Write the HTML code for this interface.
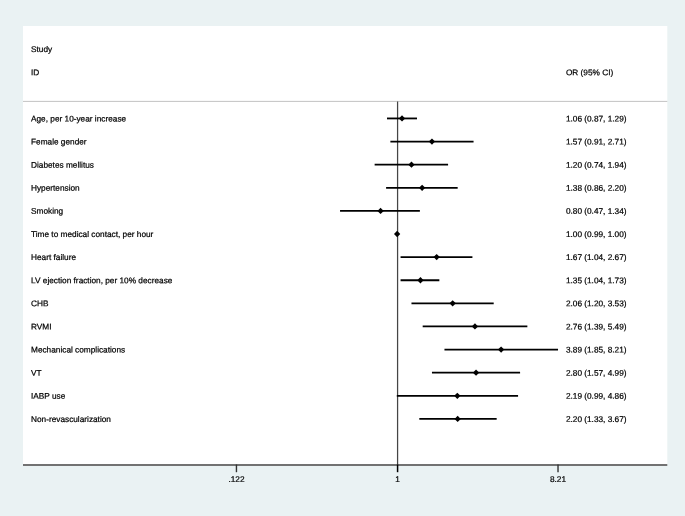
<!DOCTYPE html>
<html><head><meta charset="utf-8"><title>Forest plot</title>
<style>
html,body{margin:0;padding:0;background:#eaf2f3;}
body{width:685px;height:516px;overflow:hidden;}
svg{display:block;will-change:transform;}
text{font-family:"Liberation Sans",sans-serif;font-size:8.28px;fill:#000;stroke:#000;stroke-width:0.22px;text-rendering:geometricPrecision;}
</style></head><body>
<svg width="685" height="516" viewBox="0 0 685 516">
<rect x="0" y="0" width="685" height="516" fill="#eaf2f3"/>
<rect x="23" y="26" width="644.3" height="439" fill="#ffffff"/>
<line x1="23" y1="101.4" x2="667.3" y2="101.4" stroke="#b4b4b4" stroke-width="0.8"/>
<line x1="23" y1="465" x2="667.3" y2="465" stroke="#727272" stroke-width="1.8"/>
<line x1="236.45" y1="464.5" x2="236.45" y2="472.2" stroke="#333" stroke-width="1.4"/>
<line x1="558.02" y1="464.5" x2="558.02" y2="472.2" stroke="#333" stroke-width="1.4"/>
<line x1="397.58" y1="101.4" x2="397.58" y2="465" stroke="#454545" stroke-width="1.25"/>
<line x1="397.58" y1="464.6" x2="397.58" y2="472.2" stroke="#000" stroke-width="1.5"/>
<text x="236.45" y="482.00" transform="rotate(0.03 236.45 482.00)" text-anchor="middle">.122</text>
<text x="397.58" y="482.00" transform="rotate(0.03 397.58 482.00)" text-anchor="middle">1</text>
<text x="558.02" y="482.00" transform="rotate(0.03 558.02 482.00)" text-anchor="middle">8.21</text>
<text x="31.00" y="52.07" transform="rotate(0.03 31.00 52.07)">Study</text>
<text x="31.00" y="75.18" transform="rotate(0.03 31.00 75.18)">ID</text>
<text x="565.90" y="75.18" transform="rotate(0.03 565.90 75.18)">OR (95% CI)</text>
<text x="31.00" y="121.41" transform="rotate(0.03 31.00 121.41)">Age, per 10-year increase</text>
<text x="565.90" y="121.41" transform="rotate(0.03 565.90 121.41)">1.06 (0.87, 1.29)</text>
<line x1="386.97" y1="118.44" x2="416.99" y2="118.44" stroke="#000" stroke-width="1.8"/>
<polygon points="398.87,118.44 402.02,115.29 405.17,118.44 402.02,121.59" fill="#000"/>
<text x="31.00" y="144.52" transform="rotate(0.03 31.00 144.52)">Female gender</text>
<text x="565.90" y="144.52" transform="rotate(0.03 565.90 144.52)">1.57 (0.91, 2.71)</text>
<line x1="390.39" y1="141.55" x2="473.56" y2="141.55" stroke="#000" stroke-width="1.8"/>
<polygon points="428.81,141.55 431.96,138.40 435.11,141.55 431.96,144.70" fill="#000"/>
<text x="31.00" y="167.64" transform="rotate(0.03 31.00 167.64)">Diabetes mellitus</text>
<text x="565.90" y="167.64" transform="rotate(0.03 565.90 167.64)">1.20 (0.74, 1.94)</text>
<line x1="374.63" y1="164.67" x2="448.08" y2="164.67" stroke="#000" stroke-width="1.8"/>
<polygon points="408.32,164.67 411.47,161.52 414.62,164.67 411.47,167.82" fill="#000"/>
<text x="31.00" y="190.75" transform="rotate(0.03 31.00 190.75)">Hypertension</text>
<text x="565.90" y="190.75" transform="rotate(0.03 565.90 190.75)">1.38 (0.86, 2.20)</text>
<line x1="386.09" y1="187.78" x2="457.67" y2="187.78" stroke="#000" stroke-width="1.8"/>
<polygon points="418.98,187.78 422.13,184.63 425.28,187.78 422.13,190.93" fill="#000"/>
<text x="31.00" y="213.86" transform="rotate(0.03 31.00 213.86)">Smoking</text>
<text x="565.90" y="213.86" transform="rotate(0.03 565.90 213.86)">0.80 (0.47, 1.34)</text>
<line x1="340.04" y1="210.89" x2="419.88" y2="210.89" stroke="#000" stroke-width="1.8"/>
<polygon points="377.42,210.89 380.57,207.74 383.72,210.89 380.57,214.04" fill="#000"/>
<text x="31.00" y="236.97" transform="rotate(0.03 31.00 236.97)">Time to medical contact, per hour</text>
<text x="565.90" y="236.97" transform="rotate(0.03 565.90 236.97)">1.00 (0.99, 1.00)</text>
<polygon points="393.98,234.00 397.13,230.85 400.28,234.00 397.13,237.16" fill="#000"/>
<text x="31.00" y="260.09" transform="rotate(0.03 31.00 260.09)">Heart failure</text>
<text x="565.90" y="260.09" transform="rotate(0.03 565.90 260.09)">1.67 (1.04, 2.67)</text>
<line x1="400.57" y1="257.12" x2="472.42" y2="257.12" stroke="#000" stroke-width="1.8"/>
<polygon points="433.51,257.12 436.66,253.97 439.81,257.12 436.66,260.27" fill="#000"/>
<text x="31.00" y="283.20" transform="rotate(0.03 31.00 283.20)">LV ejection fraction, per 10% decrease</text>
<text x="565.90" y="283.20" transform="rotate(0.03 565.90 283.20)">1.35 (1.04, 1.73)</text>
<line x1="400.57" y1="280.23" x2="439.35" y2="280.23" stroke="#000" stroke-width="1.8"/>
<polygon points="417.30,280.23 420.45,277.08 423.60,280.23 420.45,283.38" fill="#000"/>
<text x="31.00" y="306.31" transform="rotate(0.03 31.00 306.31)">CHB</text>
<text x="565.90" y="306.31" transform="rotate(0.03 565.90 306.31)">2.06 (1.20, 3.53)</text>
<line x1="411.47" y1="303.34" x2="493.70" y2="303.34" stroke="#000" stroke-width="1.8"/>
<polygon points="449.51,303.34 452.66,300.19 455.81,303.34 452.66,306.49" fill="#000"/>
<text x="31.00" y="329.43" transform="rotate(0.03 31.00 329.43)">RVMI</text>
<text x="565.90" y="329.43" transform="rotate(0.03 565.90 329.43)">2.76 (1.39, 5.49)</text>
<line x1="422.68" y1="326.46" x2="527.36" y2="326.46" stroke="#000" stroke-width="1.8"/>
<polygon points="471.80,326.46 474.95,323.31 478.10,326.46 474.95,329.61" fill="#000"/>
<text x="31.00" y="352.54" transform="rotate(0.03 31.00 352.54)">Mechanical complications</text>
<text x="565.90" y="352.54" transform="rotate(0.03 565.90 352.54)">3.89 (1.85, 8.21)</text>
<line x1="444.46" y1="349.57" x2="558.03" y2="349.57" stroke="#000" stroke-width="1.8"/>
<polygon points="497.95,349.57 501.10,346.42 504.25,349.57 501.10,352.72" fill="#000"/>
<text x="31.00" y="375.65" transform="rotate(0.03 31.00 375.65)">VT</text>
<text x="565.90" y="375.65" transform="rotate(0.03 565.90 375.65)">2.80 (1.57, 4.99)</text>
<line x1="431.96" y1="372.68" x2="520.08" y2="372.68" stroke="#000" stroke-width="1.8"/>
<polygon points="472.90,372.68 476.05,369.53 479.20,372.68 476.05,375.83" fill="#000"/>
<text x="31.00" y="398.77" transform="rotate(0.03 31.00 398.77)">IABP use</text>
<text x="565.90" y="398.77" transform="rotate(0.03 565.90 398.77)">2.19 (0.99, 4.86)</text>
<line x1="396.81" y1="395.80" x2="518.07" y2="395.80" stroke="#000" stroke-width="1.8"/>
<polygon points="454.17,395.80 457.32,392.65 460.47,395.80 457.32,398.95" fill="#000"/>
<text x="31.00" y="421.88" transform="rotate(0.03 31.00 421.88)">Non-revascularization</text>
<text x="565.90" y="421.88" transform="rotate(0.03 565.90 421.88)">2.20 (1.33, 3.67)</text>
<line x1="419.31" y1="418.91" x2="496.67" y2="418.91" stroke="#000" stroke-width="1.8"/>
<polygon points="454.52,418.91 457.67,415.76 460.82,418.91 457.67,422.06" fill="#000"/>
</svg>
</body></html>
